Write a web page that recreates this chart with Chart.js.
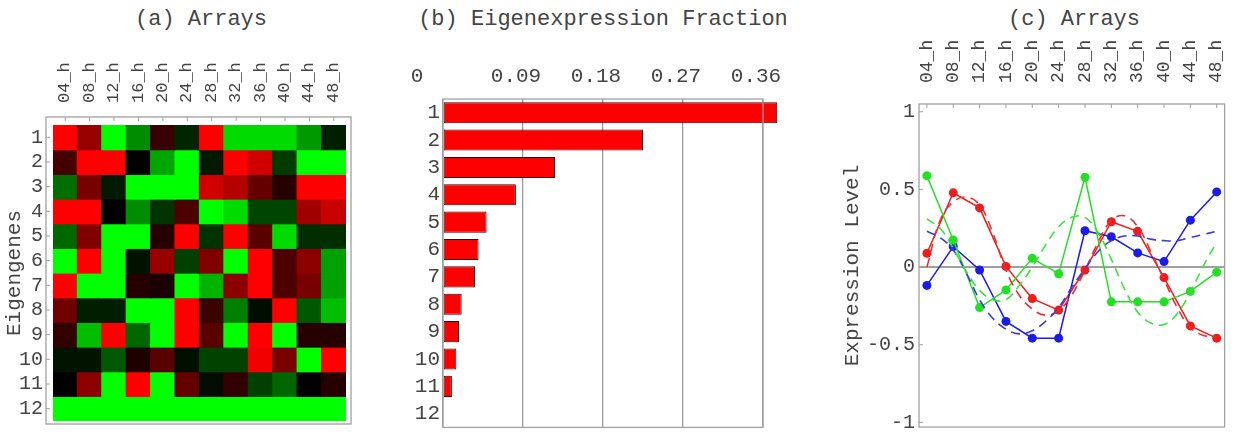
<!DOCTYPE html>
<html>
<head>
<meta charset="utf-8">
<script src="https://cdn.jsdelivr.net/npm/chart.js@4.4.1/dist/chart.umd.min.js"></script>
<style>
  html, body { margin: 0; padding: 0; background: #fff; width: 1238px; height: 443px; overflow: hidden; }
  .panel { position: absolute; top: 0; }
  .title { position: absolute; top: 9px; font: 22px/22px 'Liberation Mono', monospace; color: #444;
           white-space: pre; transform: translateX(-50%); }
</style>
</head>
<body>
<div class="title" style="left:201px">(a) Arrays</div>
<div class="title" style="left:603px">(b) Eigenexpression Fraction</div>
<div class="title" style="left:1074px">(c) Arrays</div>
<div class="panel" style="left:0px"><canvas id="heat" width="360" height="443"></canvas></div>
<div class="panel" style="left:360px"><canvas id="fraction" width="440" height="443"></canvas></div>
<div class="panel" style="left:830px"><canvas id="levels" width="408" height="443"></canvas></div>
<script>
// ---- data ----
const timeLabels = ['04_h', '08_h', '12_h', '16_h', '20_h', '24_h', '28_h', '32_h', '36_h', '40_h', '44_h', '48_h'];
const eigengeneLabels = ['1', '2', '3', '4', '5', '6', '7', '8', '9', '10', '11', '12'];

// eigengene patterns: one row per eigengene, one column per array (+1 = full red, -1 = full green)
const eigengenePattern = [
  [ 1.00,  0.60, -1.00, -0.55,  0.22, -0.15,  1.00, -0.86, -0.86, -0.86, -0.60, -0.12],
  [ 0.27,  1.00,  1.00,  0.00, -0.65, -1.00, -0.10,  1.00,  0.82, -0.23, -1.00, -1.00],
  [-0.43,  0.47, -0.10, -1.00, -1.00, -1.00,  0.82,  0.70,  0.40,  0.15,  1.00,  1.00],
  [ 1.00,  1.00,  0.00, -0.55, -0.20,  0.30, -1.00, -0.86, -0.27, -0.27,  0.63,  0.78],
  [-0.40,  0.50, -1.00, -1.00,  0.15,  1.00, -0.20,  1.00,  0.35, -0.86, -0.18, -0.18],
  [-1.00,  1.00, -1.00, -0.07,  0.60, -0.25,  0.50, -1.00,  1.00,  0.30,  0.55, -0.63],
  [ 1.00, -1.00, -1.00,  0.15,  0.10, -1.00, -0.70,  0.55,  1.00,  0.30,  0.47, -0.63],
  [ 0.43, -0.12, -0.12, -1.00, -1.00,  1.00,  0.23, -0.50, -0.05,  1.00, -0.35, -0.75],
  [ 0.20, -0.75,  1.00, -0.40, -1.00,  1.00,  0.35, -1.00,  1.00, -1.00,  0.15,  0.15],
  [-0.08, -0.08, -0.35,  0.12,  0.35, -0.06, -0.26, -0.26,  0.95,  0.47, -1.00,  1.00],
  [ 0.00,  0.55, -1.00,  1.00, -1.00,  0.40, -0.05,  0.20, -0.25, -0.40,  0.00,  0.15],
  [-1.00, -1.00, -1.00, -1.00, -1.00, -1.00, -1.00, -1.00, -1.00, -1.00, -1.00, -1.00]
];

// fraction of overall expression captured by each eigengene
const eigenFraction = [0.376, 0.225, 0.126, 0.082, 0.049, 0.040, 0.036, 0.021, 0.018, 0.015, 0.010, 0.000];
const fractionTicks = [0, 0.09, 0.18, 0.27, 0.36];

// expression level of the first three eigengenes across the arrays
const levelRed   = [ 0.089,  0.478,  0.381,  0.004, -0.203, -0.277, -0.019,  0.292,  0.230, -0.068, -0.379, -0.458];
const levelGreen = [ 0.588,  0.174, -0.261, -0.147,  0.056, -0.043,  0.578, -0.224, -0.224, -0.224, -0.157, -0.033];
const levelBlue  = [-0.118,  0.132, -0.019, -0.350, -0.458, -0.458,  0.234,  0.195,  0.091,  0.035,  0.302,  0.484];

// fitted curves, sampled every half array step
const fitTimes = [0, 0.5, 1, 1.5, 2, 2.5, 3, 3.5, 4, 4.5, 5, 5.5, 6, 6.5, 7, 7.5, 8, 8.5, 9, 9.5, 10, 10.5, 11];
const fitRed   = [0.00, 0.30, 0.42, 0.45, 0.40, 0.22, -0.02, -0.18, -0.27, -0.31, -0.28, -0.18, -0.02, 0.16, 0.30, 0.33, 0.26, 0.10, -0.08, -0.26, -0.39, -0.44, -0.45];
const fitGreen = [0.31, 0.25, 0.12, -0.03, -0.15, -0.21, -0.21, -0.12, 0.00, 0.14, 0.26, 0.32, 0.32, 0.22, 0.05, -0.14, -0.29, -0.36, -0.37, -0.30, -0.16, 0.01, 0.16];
const fitBlue  = [0.23, 0.19, 0.11, -0.04, -0.21, -0.33, -0.40, -0.43, -0.41, -0.35, -0.26, -0.13, -0.01, 0.10, 0.17, 0.20, 0.20, 0.18, 0.17, 0.17, 0.19, 0.21, 0.23];
const levelTicks = [-1, -0.5, 0, 0.5, 1];

// ---- shared style ----
Chart.defaults.font.family = "'Liberation Mono', monospace";
Chart.defaults.color = '#444';
Chart.defaults.animation = false;

const FRAME = '#a0a0a0';

function cellColor(v) {
  return v >= 0 ? `rgb(${Math.round(255 * v)},0,0)` : `rgb(0,${Math.round(-255 * v)},0)`;
}

// grey box around the plot area with short inward ticks
function framePlugin(id, inset, withTicks) {
  return {
    id,
    afterDraw(chart) {
      const { ctx, chartArea: a, scales } = chart;
      const l = a.left - inset.l, t = a.top - inset.t, r = a.right + inset.r, b = a.bottom + inset.b;
      ctx.save();
      ctx.strokeStyle = FRAME;
      ctx.lineWidth = 1.3;
      ctx.strokeRect(l, t, r - l, b - t);
      if (withTicks) {
        ctx.lineWidth = 1;
        ctx.beginPath();
        scales.x.ticks.forEach((_, i) => {
          const px = scales.x.getPixelForTick(i);
          ctx.moveTo(px, t); ctx.lineTo(px, t + 4);
        });
        scales.y.ticks.forEach((_, i) => {
          const py = scales.y.getPixelForTick(i);
          ctx.moveTo(l, py); ctx.lineTo(l + 4, py);
        });
        ctx.stroke();
      }
      ctx.restore();
    }
  };
}

// ---- (a) eigengene pattern heat map ----
const rowCenters = eigengeneLabels.map((_, i) => i + 0.5);
new Chart(document.getElementById('heat'), {
  type: 'bar',
  data: {
    labels: timeLabels,
    datasets: eigengenePattern.map((row, r) => ({
      label: eigengeneLabels[r],
      data: row.map(() => 1),
      backgroundColor: row.map(cellColor),
      borderWidth: 0,
      barPercentage: 1,
      categoryPercentage: 1,
      inflateAmount: 0.6
    }))
  },
  options: {
    responsive: false,
    layout: { padding: { left: 0, top: 0, right: 14, bottom: 9 } },
    plugins: { legend: { display: false }, tooltip: { enabled: false } },
    scales: {
      x: {
        position: 'top', stacked: true,
        grid: { display: false, drawTicks: false }, border: { display: false },
        ticks: { minRotation: 90, maxRotation: 90, autoSkip: false, padding: 22, labelOffset: 20, font: { size: 17 } },
        afterFit: s => { s.height = 125; }
      },
      y: {
        stacked: true, reverse: true, min: 0, max: 12,
        grid: { display: false, drawTicks: false }, border: { display: false },
        afterBuildTicks: s => { s.ticks = rowCenters.map(v => ({ value: v })); },
        ticks: { padding: 10, autoSkip: false, font: { size: 20 }, callback: (v, i) => eigengeneLabels[i] },
        title: { display: true, text: 'Eigengenes', padding: { top: 2, bottom: 0 }, font: { size: 21 } },
        afterFit: s => { s.width = 53; }
      }
    }
  },
  plugins: [framePlugin('heatFrame', { l: 7, t: 8, r: 5, b: 3 }, true)]
});

// ---- (b) eigenexpression fractions ----
new Chart(document.getElementById('fraction'), {
  type: 'bar',
  data: {
    labels: eigengeneLabels,
    datasets: [{
      data: eigenFraction,
      backgroundColor: '#ff0000',
      borderColor: '#3a0000',
      borderWidth: 1,
      borderSkipped: false,
      barPercentage: 0.77,
      categoryPercentage: 1,
      clip: false
    }]
  },
  options: {
    responsive: false,
    indexAxis: 'y',
    layout: { padding: { left: 0, top: 0, right: 37, bottom: 1 } },
    plugins: { legend: { display: false }, tooltip: { enabled: false } },
    scales: {
      x: {
        position: 'top', min: 0, max: 0.36,
        afterBuildTicks: s => { s.ticks = fractionTicks.map(v => ({ value: v })); },
        ticks: { padding: 10, labelOffset: -7, font: { size: 21 },
                 callback: v => (v === 0 ? '0   ' : v.toFixed(2)) },
        grid: { color: '#9a9a9a', lineWidth: 1.3, drawTicks: false }, border: { display: false },
        afterFit: s => { s.height = 99; }
      },
      y: {
        grid: { display: false, drawTicks: false }, border: { display: false },
        ticks: { padding: 3, autoSkip: false, font: { size: 21 } },
        afterFit: s => { s.width = 83; }
      }
    }
  },
  plugins: [framePlugin('fractionFrame', { l: 0, t: 0, r: 0, b: 0 }, false)]
});

// ---- (c) expression level of eigengenes 1-3 ----
const asPoints = vals => vals.map((y, i) => ({ x: i, y }));
const asFit = vals => fitTimes.map((t, i) => ({ x: t, y: vals[i] }));
const fitStyle = color => ({ borderColor: color, borderWidth: 1.6, borderDash: [9, 6], pointRadius: 0, tension: 0.4, fill: false });
const lineStyle = color => ({ borderColor: color, backgroundColor: color, borderWidth: 1.5, pointRadius: 4.5, pointBorderWidth: 0, tension: 0, fill: false });

new Chart(document.getElementById('levels'), {
  type: 'line',
  data: {
    datasets: [
      { label: 'fit green', data: asFit(fitGreen), ...fitStyle('#3ee03e') },
      { label: 'fit blue',  data: asFit(fitBlue),  ...fitStyle('#3a3ae0') },
      { label: 'fit red',   data: asFit(fitRed),   ...fitStyle('#e83030') },
      { label: 'green', data: asPoints(levelGreen), ...lineStyle('#22e022') },
      { label: 'blue',  data: asPoints(levelBlue),  ...lineStyle('#1c1ce6') },
      { label: 'red',   data: asPoints(levelRed),   ...lineStyle('#ee1c1c') }
    ]
  },
  options: {
    responsive: false,
    layout: { padding: { left: 0, top: 0, right: 11, bottom: 4 } },
    plugins: { legend: { display: false }, tooltip: { enabled: false } },
    scales: {
      x: {
        type: 'linear', position: 'top', min: -0.3, max: 11.3,
        afterBuildTicks: s => { s.ticks = timeLabels.map((_, i) => ({ value: i })); },
        ticks: { minRotation: 90, maxRotation: 90, autoSkip: false, padding: 21, labelOffset: 21.5, font: { size: 18 },
                 callback: (v, i) => timeLabels[i] },
        grid: { display: false, drawTicks: false }, border: { display: false },
        afterFit: s => { s.height = 104; }
      },
      y: {
        min: -1.03, max: 1.05,
        afterBuildTicks: s => { s.ticks = levelTicks.map(v => ({ value: v })); },
        ticks: { padding: 4, autoSkip: false, font: { size: 20 }, callback: v => String(v) },
        grid: { color: c => (c.tick && c.tick.value === 0 ? '#a0a0a0' : 'rgba(0,0,0,0)'), lineWidth: 2, drawTicks: false },
        border: { display: false },
        title: { display: true, text: 'Expression Level', padding: { top: 10, bottom: 0 }, font: { size: 21 } },
        afterFit: s => { s.width = 89; }
      }
    }
  },
  plugins: [framePlugin('levelsFrame', { l: 0, t: 0, r: 0, b: 0 }, true)]
});
</script>
</body>
</html>
